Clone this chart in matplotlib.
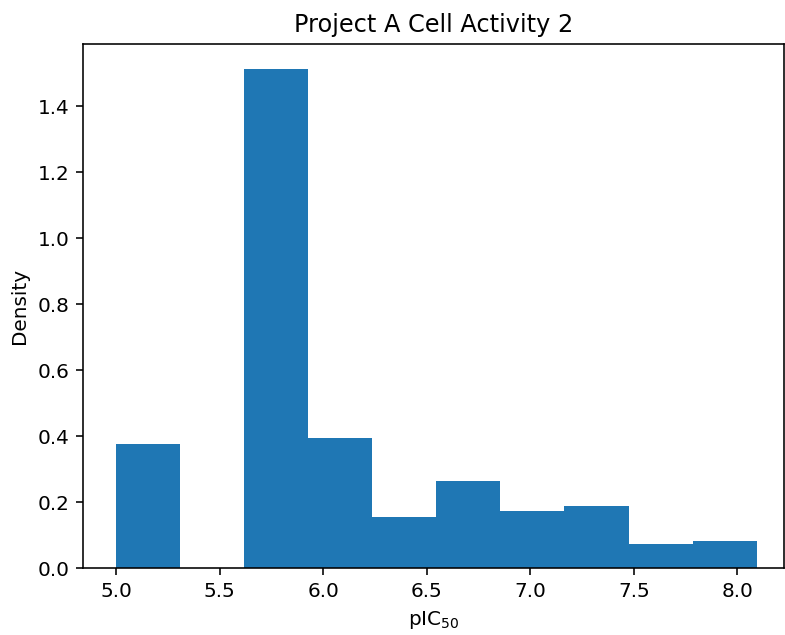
import matplotlib
matplotlib.use('Agg')
import matplotlib.pyplot as plt
import numpy as np

# pIC50 histogram, density per bin
bin_lo = 5.0
bin_hi = 8.093
n_bins = 10
density = [0.377, 0.0, 1.513, 0.395, 0.156, 0.265, 0.174, 0.189, 0.074, 0.083]

edges = np.linspace(bin_lo, bin_hi, n_bins + 1)
centers = (edges[:-1] + edges[1:]) / 2

dpi = 144
fig = plt.figure(figsize=(785 / dpi, 635 / dpi), dpi=dpi)
ax = fig.add_axes([83.3 / 785, 1 - 568.3 / 635, (784 - 83.3) / 785, (568.3 - 44) / 635])
ax.hist(centers, bins=edges, weights=density, color='#1f77b4')
ax.set_xlim(4.842, 8.225)
ax.set_title('Project A Cell Activity 2')
ax.set_xlabel(r'pIC$_{50}$')
ax.set_ylabel('Density')

plt.savefig('out.png', dpi=dpi)
